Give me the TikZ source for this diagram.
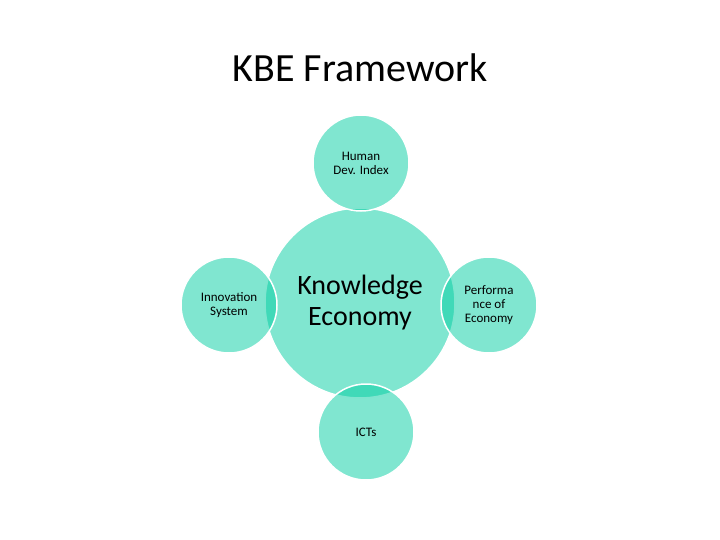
\documentclass[tikz,border=0pt]{standalone}
\usepackage{fontspec}
\setmainfont{Carlito}
\definecolor{teal1}{RGB}{1,205,161}
\begin{document}
\begin{tikzpicture}[x=1pt,y=-1pt,
  circ/.style={circle,fill=teal1,fill opacity=0.5,draw=white,line width=1.5pt,text opacity=1,align=center,inner sep=0pt,font=\fontsize{13}{14}\selectfont},
  big/.style={circ,minimum size=190pt,font=\fontsize{28}{31}\selectfont},
  small/.style={circ,minimum size=96pt}]
\useasboundingbox (0,0) rectangle (720,540);
\node[font=\fontsize{40}{44}\selectfont] (title) at (360,68) {KBE Framework};
\node[big] (ke) at (360,303) {Knowledge\\Economy};
\node[small] (hdi) at (361,163) {Human\\Dev. Index};
\node[small] (inn) at (229,305) {Innovation\\System};
\node[small] (perf) at (489,305) {Performa\\nce of\\Economy};
\node[small] (ict) at (366,432) {ICTs};
\end{tikzpicture}
\end{document}
